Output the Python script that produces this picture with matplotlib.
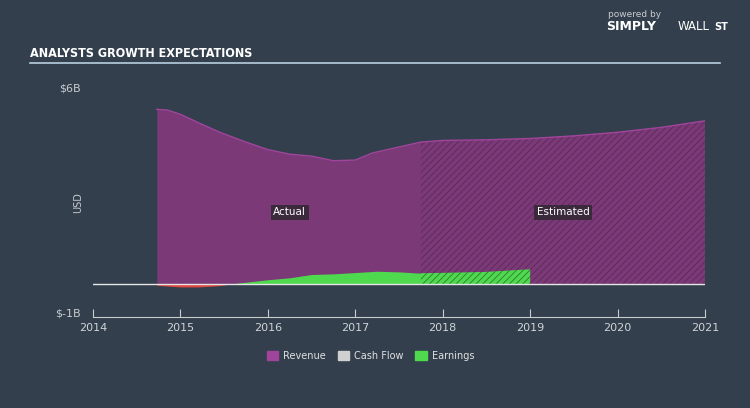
import numpy as np
import matplotlib.pyplot as plt
from matplotlib.patches import Patch

plt.rcParams["hatch.linewidth"] = 0.6

# values (USD billions)
rev_years = [2014.73, 2014.85, 2015.0, 2015.2, 2015.45, 2015.75, 2016.0, 2016.25, 2016.5,
             2016.75, 2017.0, 2017.2, 2017.5, 2017.75, 2018.0, 2018.5, 2019.0, 2019.5,
             2020.0, 2020.5, 2021.0]
revenue = [5.35, 5.33, 5.2, 4.95, 4.65, 4.35, 4.12, 3.98, 3.92, 3.78, 3.8, 4.02, 4.2, 4.35,
           4.4, 4.42, 4.46, 4.54, 4.65, 4.8, 5.0]

earn_years = [2014.73, 2015.0, 2015.2, 2015.45, 2015.6, 2016.0, 2016.25, 2016.5, 2016.75,
              2017.0, 2017.25, 2017.5, 2017.75, 2018.0, 2018.5, 2019.0]
earnings = [-0.03, -0.08, -0.08, -0.04, 0.02, 0.14, 0.2, 0.3, 0.32, 0.36, 0.4, 0.38, 0.34,
            0.35, 0.38, 0.46]

forecast_start = 2017.75
year_ticks = list(range(2014, 2022))

bg = "#333f4c"
rev_color = "#7b3977"
earn_color = "#4fd94f"
neg_color = "#e0483f"

fig = plt.figure(figsize=(7.5, 4.08), dpi=100)
fig.patch.set_facecolor(bg)
ax = fig.add_axes([0.124, 0.223, 0.816, 0.561])
ax.set_facecolor(bg)

rx = np.array(rev_years)
ry = np.array(revenue)
ex = np.array(earn_years)
ey = np.array(earnings)

# revenue: actual + estimated (hatched)
act = rx <= forecast_start
ax.fill_between(rx[act], 0, ry[act], color=rev_color, lw=0)
est = rx >= forecast_start
ax.fill_between(rx[est], 0, ry[est], facecolor=rev_color, edgecolor="#5a2a58",
                hatch="/////", lw=0)
ax.plot(rx, ry, color="#a0459c", lw=1)

# earnings
eact = ex <= forecast_start
ax.fill_between(ex[eact], 0, ey[eact], where=ey[eact] >= 0, color=earn_color, lw=0,
                interpolate=True)
ax.fill_between(ex[eact], 0, ey[eact], where=ey[eact] < 0, color=neg_color, lw=0,
                interpolate=True)
eest = ex >= forecast_start
ax.fill_between(ex[eest], 0, ey[eest], facecolor=earn_color, edgecolor="#2e7a2e",
                hatch="/////", lw=0)

ax.axhline(0, color="#e6e6e6", lw=1)

ax.set_xlim(2014, 2021)
ax.set_ylim(-1, 6)
ax.set_xticks(year_ticks)
ax.set_xticklabels([str(y) for y in year_ticks], color="#d0d4d8", fontsize=8)
ax.set_yticks([])
for s in ["top", "right", "left"]:
    ax.spines[s].set_visible(False)
ax.spines["bottom"].set_color("#c8ccd0")
ax.tick_params(axis="x", direction="in", length=6, color="#c8ccd0", pad=4)

ax.text(-0.02, 1.0, "$6B", transform=ax.transAxes, ha="right", va="center",
        color="#c8ccd0", fontsize=8)
ax.text(-0.02, 0.015, "$-1B", transform=ax.transAxes, ha="right", va="center",
        color="#c8ccd0", fontsize=8)
ax.text(-0.025, 0.5, "USD", transform=ax.transAxes, ha="center", va="center",
        rotation=90, color="#c8ccd0", fontsize=7)

box = dict(boxstyle="square,pad=0.25", fc="#3a2a3c", ec="none")
ax.text(2016.25, 2.2, "Actual", color="white", fontsize=7.5, ha="center", va="center", bbox=box)
ax.text(2019.38, 2.2, "Estimated", color="white", fontsize=7.5, ha="center", va="center", bbox=box)

# title + rule
fig.text(0.04, 0.87, "ANALYSTS GROWTH EXPECTATIONS", color="white", fontsize=9,
         fontweight="bold", fontstretch="condensed", va="center")
fig.add_artist(plt.Line2D([0.04, 0.96], [0.845, 0.845], color="#b8cfe0", lw=1.2))

# logo text
fig.text(0.81, 0.965, "powered by", color="#c8ccd0", fontsize=6.5, va="center")
fig.text(0.808, 0.935, "SIMPLY", color="white", fontsize=9, fontweight="bold", va="center")
fig.text(0.903, 0.935, "WALL", color="white", fontsize=8.5, va="center")
fig.text(0.952, 0.935, "ST", color="white", fontsize=7, fontweight="bold", va="center")

handles = [Patch(color="#a0449c", label="Revenue"),
           Patch(color="#d0d0d0", label="Cash Flow"),
           Patch(color=earn_color, label="Earnings")]
leg = fig.legend(handles=handles, loc="center", bbox_to_anchor=(0.494, 0.128), ncol=3,
                 frameon=False, fontsize=7, handlelength=1.2, handleheight=1.0,
                 columnspacing=1.2, handletextpad=0.5)
for t in leg.get_texts():
    t.set_color("#e0e0e0")

fig.savefig("out.png", dpi=100, facecolor=bg)
